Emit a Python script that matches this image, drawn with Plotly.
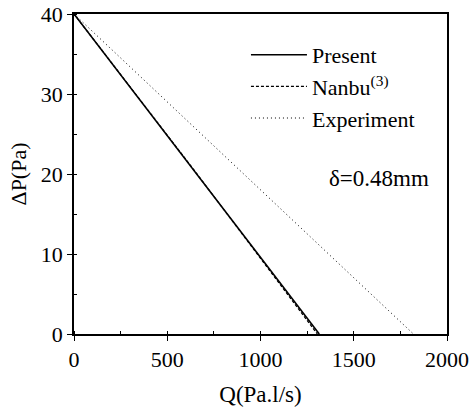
import plotly.graph_objects as go

present_q = [0, 1315]
present_dp = [40, 0]
nanbu_q = [0, 650, 1305]
nanbu_dp = [40, 20.3, 0]
exp_q = [0, 1820]
exp_dp = [40, 0]

font = "Liberation Serif, Times New Roman, serif"

fig = go.Figure()
fig.add_trace(go.Scatter(x=present_q, y=present_dp, mode="lines", name="Present", legendgroup="a",
                         line=dict(color="black", width=1.6, dash="solid")))
fig.add_trace(go.Scatter(x=nanbu_q, y=nanbu_dp, mode="lines", name="Nanbu<sup>(3)</sup>", legendgroup="b",
                         line=dict(color="black", width=1.2, dash="3px,2px")))
fig.add_trace(go.Scatter(x=exp_q, y=exp_dp, mode="lines", name="Experiment", legendgroup="c",
                         line=dict(color="black", width=1, dash="1px,3px")))

fig.add_annotation(x=1357, y=19.5, xref="x", yref="y", text="δ=0.48mm", showarrow=False,
                   xanchor="left", yanchor="middle", font=dict(family=font, size=23, color="black"))

axis_common = dict(showgrid=False, zeroline=False, showline=True, linecolor="black", linewidth=1.5,
                   mirror=True, ticks="outside", ticklen=5, tickwidth=1.2, tickcolor="black",
                   automargin=False, ticklabeloverflow="allow",
                   tickfont=dict(family=font, size=22, color="black"))

fig.update_xaxes(range=[0, 2000], dtick=500, tick0=0,
                 title=dict(text="Q(Pa.l/s)", font=dict(family=font, size=23, color="black"), standoff=15),
                 minor=dict(dtick=250, ticks="inside", ticklen=3, tickcolor="black"),
                 **axis_common)
fig.update_yaxes(range=[0, 40], dtick=10, tick0=0,
                 title=dict(text="ΔP(Pa)", font=dict(family=font, size=22, color="black"), standoff=8),
                 minor=dict(dtick=5, ticks="inside", ticklen=3, tickcolor="black"),
                 **axis_common)

fig.update_layout(
    width=473, height=408,
    margin=dict(l=74, r=26, t=14, b=74),
    paper_bgcolor="white", plot_bgcolor="white",
    showlegend=True,
    legend=dict(x=0.461, y=0.9375, xanchor="left", yanchor="top", bgcolor="rgba(0,0,0,0)",
                font=dict(family=font, size=22, color="black"), tracegroupgap=0, itemwidth=56),
)

fig.write_html("out.html", config={"displayModeBar": False},
               post_script="document.body.style.margin='0';document.body.style.overflow='hidden';")
